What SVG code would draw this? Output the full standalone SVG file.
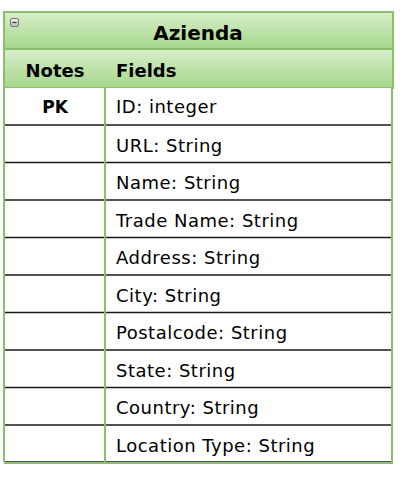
<svg xmlns="http://www.w3.org/2000/svg" width="400" height="477" viewBox="0 0 400 477">
<defs>
<linearGradient id="g" x1="0" y1="0" x2="0" y2="1">
<stop offset="0" stop-color="#d8eecb"/>
<stop offset="1" stop-color="#a5d68a"/>
</linearGradient>
<linearGradient id="ic" x1="0" y1="0" x2="0" y2="1">
<stop offset="0" stop-color="#f4f4f4"/>
<stop offset="1" stop-color="#b8b8b8"/>
</linearGradient>
<style>
.t{font-family:"DejaVu Sans",Verdana,sans-serif;font-size:18px;letter-spacing:0.5px;fill:#000}
.b{font-family:"DejaVu Sans",Verdana,sans-serif;font-weight:bold;fill:#000}
.rl{stroke:#1a1a1a;stroke-width:1.5}
.gb{stroke:#8bbf6e;stroke-width:2}
.hd{fill:url(#g);stroke:#8bbf6e;stroke-width:2}
</style>
</defs>
<rect x="0" y="0" width="400" height="477" fill="#fff"/>
<g id="table">
<rect x="4" y="12" width="389" height="37" class="hd"/>
<rect x="4" y="49" width="389" height="39" class="hd"/>
<g id="icon"><rect x="10.5" y="18.5" width="8" height="8" rx="1.5" fill="url(#ic)" stroke="#777" stroke-width="1"/><line x1="12.5" y1="22.5" x2="16.5" y2="22.5" stroke="#333" stroke-width="1.2"/></g>
<text x="198" y="40" text-anchor="middle" class="b" font-size="20">Azienda</text>
<text x="55" y="77" text-anchor="middle" class="b" font-size="18">Notes</text>
<text x="116" y="77" class="b" font-size="18">Fields</text>
<rect x="4" y="88" width="388" height="374" fill="#fff"/>
<g id="rows">
<line x1="4" y1="125" x2="393" y2="125" class="rl"/>
<line x1="4" y1="162.5" x2="393" y2="162.5" class="rl"/>
<line x1="4" y1="200" x2="393" y2="200" class="rl"/>
<line x1="4" y1="237.5" x2="393" y2="237.5" class="rl"/>
<line x1="4" y1="275" x2="393" y2="275" class="rl"/>
<line x1="4" y1="312.5" x2="393" y2="312.5" class="rl"/>
<line x1="4" y1="350" x2="393" y2="350" class="rl"/>
<line x1="4" y1="387.5" x2="393" y2="387.5" class="rl"/>
<line x1="4" y1="425" x2="393" y2="425" class="rl"/>
<line x1="4" y1="462" x2="393" y2="462" class="rl"/>
</g>
<line x1="4" y1="88" x2="4" y2="462" class="gb"/>
<line x1="392" y1="88" x2="392" y2="462" class="gb"/>
<line x1="105" y1="88" x2="105" y2="462" class="gb"/>
<line x1="4" y1="463" x2="393" y2="463" class="gb"/>
<text x="55" y="113" text-anchor="middle" class="b" font-size="17">PK</text>
<text x="116" y="113" class="t">ID: integer</text>
<text x="116" y="151.5" class="t">URL: String</text>
<text x="116" y="189" class="t">Name: String</text>
<text x="116" y="226.5" class="t">Trade Name: String</text>
<text x="116" y="264" class="t">Address: String</text>
<text x="116" y="301.5" class="t">City: String</text>
<text x="116" y="339" class="t">Postalcode: String</text>
<text x="116" y="376.5" class="t">State: String</text>
<text x="116" y="414" class="t">Country: String</text>
<text x="116" y="451.5" class="t">Location Type: String</text>
</g>
</svg>
